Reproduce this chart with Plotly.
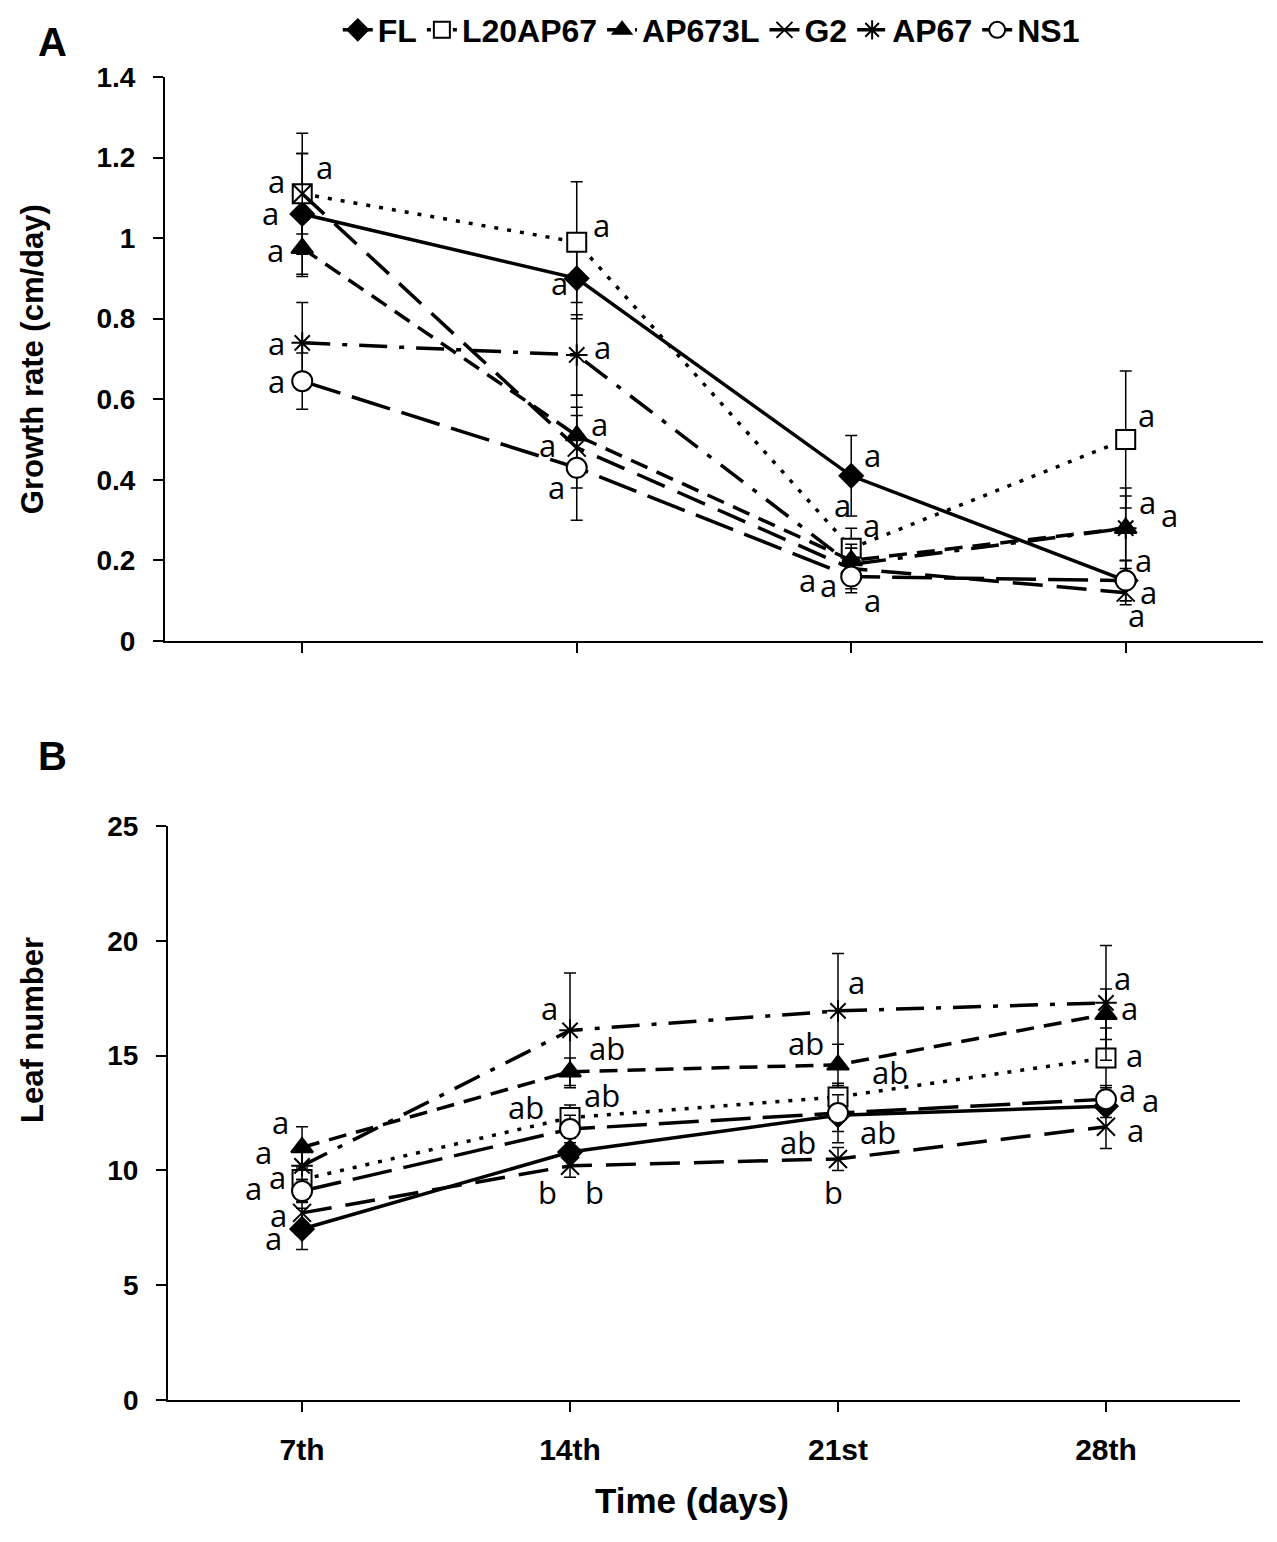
import plotly.graph_objects as go

# categories (x axis)
days = ["7th", "14th", "21st", "28th"]
lines = ["FL", "L20AP67", "AP673L", "G2", "AP67", "NS1"]

# Panel A - growth rate (cm/day), means and error bars
growth_FL = [1.06, 0.90, 0.41, 0.15]
growth_L20AP67 = [1.11, 0.99, 0.23, 0.50]
growth_AP673L = [0.975, 0.51, 0.20, 0.28]
growth_G2 = [1.11, 0.48, 0.18, 0.12]
growth_AP67 = [0.74, 0.71, 0.19, 0.28]
growth_NS1 = [0.645, 0.43, 0.16, 0.15]

growth_FL_err = [0.15, 0.10, 0.10, 0.05]
growth_L20AP67_err = [0.15, 0.15, 0.05, 0.17]
growth_AP673L_err = [0.07, 0.10, 0.04, 0.10]
growth_G2_err = [0.10, 0.10, 0.05, 0.03]
growth_AP67_err = [0.10, 0.10, 0.04, 0.08]
growth_NS1_err = [0.07, 0.13, 0.04, 0.05]

# Panel B - leaf number
leaf_FL = [7.45, 10.8, 12.4, 12.8]
leaf_L20AP67 = [9.6, 12.3, 13.2, 14.9]
leaf_AP673L = [11.0, 14.3, 14.6, 16.8]
leaf_G2 = [8.15, 10.2, 10.5, 11.9]
leaf_AP67 = [10.2, 16.1, 16.95, 17.3]
leaf_NS1 = [9.1, 11.8, 12.5, 13.1]

leaf_FL_err = [0.9, 0.6, 1.2, 0.5]
leaf_L20AP67_err = [0.6, 0.55, 0.6, 1.3]
leaf_AP673L_err = [0.9, 0.6, 0.9, 1.1]
leaf_G2_err = [0.5, 0.5, 0.5, 0.95]
leaf_AP67_err = [0.6, 2.5, 2.5, 2.5]
leaf_NS1_err = [0.5, 0.6, 0.8, 0.6]

# significance letters: day, value, letter
growth_letter_days = ["7th"] * 6 + ["14th"] * 6 + ["21st"] * 6 + ["28th"] * 6
growth_letter_values = [1.176, 1.142, 1.062, 0.970, 0.740, 0.645,
                        1.033, 0.889, 0.730, 0.539, 0.486, 0.382,
                        0.462, 0.338, 0.288, 0.151, 0.139, 0.102,
                        0.561, 0.345, 0.313, 0.201, 0.122, 0.065]
growth_letters = ["a"] * 24

leaf_letter_days = ["7th"] * 6 + ["14th"] * 6 + ["21st"] * 6 + ["28th"] * 6
leaf_letter_values = [12.11, 10.80, 9.71, 9.23, 8.06, 7.06,
                      17.07, 15.33, 13.28, 12.76, 9.06, 9.06,
                      18.21, 15.55, 14.29, 11.67, 11.24, 9.06,
                      18.38, 17.07, 15.03, 13.50, 13.07, 11.76]
leaf_letters = ["a"] * 6 + ["a", "ab", "ab", "ab", "b", "b"] + \
               ["a", "ab", "ab", "ab", "ab", "b"] + ["a"] * 6

# horizontal offsets (px) of the letters from their error bar
growth_letter_dx = [22, -26, -32, -27, -26, -26,
                    25, -17, 26, 23, -29, -20,
                    21, -9, 20, -44, -23, 21,
                    21, 22, 44, 18, 23, 11]
leaf_letter_dx = [-22, -39, -25, -49, -24, -29,
                  -21, 37, 32, -44, -23, 24,
                  18, -32, 52, 40, -40, -5,
                  17, 24, 29, 22, 45, 30]

BOLD_FONT = "Liberation Sans, Arial"
LETTER_FONT = "Open Sans, Liberation Sans"

# style of every line: marker symbol, marker fill, dash pattern
styles = {
    "FL": dict(symbol="diamond", fill="black", size=18, dash="solid"),
    "L20AP67": dict(symbol="square", fill="white", size=19, dash="4px,9px"),
    "AP673L": dict(symbol="triangle-up", fill="black", size=19, dash="18px,10px"),
    "G2": dict(symbol="x-thin-open", fill="black", size=18, dash="30px,14px"),
    "AP67": dict(symbol="asterisk-open", fill="black", size=18, dash="28px,12px,5px,12px"),
    "NS1": dict(symbol="circle", fill="white", size=20, dash="40px,12px"),
}


def addSeries(fig, name, values, errors, xaxis, yaxis, showlegend):
    '''
    adds one line with markers and error bars to the figure
    '''
    st = styles[name]
    fig.add_trace(go.Scatter(
        x=days, y=values, name=name, mode="lines+markers",
        xaxis=xaxis, yaxis=yaxis, legendgroup=name, showlegend=showlegend,
        line=dict(color="black", width=3.5, dash=st["dash"]),
        marker=dict(symbol=st["symbol"], size=st["size"], color=st["fill"],
                    line=dict(color="black", width=2)),
        error_y=dict(type="data", array=errors, color="black", thickness=1.5, width=6),
    ))


fig = go.Figure()

growth = [growth_FL, growth_L20AP67, growth_AP673L, growth_G2, growth_AP67, growth_NS1]
growth_err = [growth_FL_err, growth_L20AP67_err, growth_AP673L_err, growth_G2_err,
              growth_AP67_err, growth_NS1_err]
leaf = [leaf_FL, leaf_L20AP67, leaf_AP673L, leaf_G2, leaf_AP67, leaf_NS1]
leaf_err = [leaf_FL_err, leaf_L20AP67_err, leaf_AP673L_err, leaf_G2_err,
            leaf_AP67_err, leaf_NS1_err]

for i, name in enumerate(lines):
    addSeries(fig, name, growth[i], growth_err[i], "x", "y", True)
for i, name in enumerate(lines):
    addSeries(fig, name, leaf[i], leaf_err[i], "x2", "y2", False)

letterFont = dict(family=LETTER_FONT, size=31, color="black")
annotations = []
# letters panel A
for d, v, t, dx in zip(growth_letter_days, growth_letter_values, growth_letters, growth_letter_dx):
    annotations.append(dict(x=d, y=v, xref="x", yref="y", text=t, xshift=dx,
                            xanchor="center", yanchor="middle",
                            showarrow=False, font=letterFont))
# letters panel B
for d, v, t, dx in zip(leaf_letter_days, leaf_letter_values, leaf_letters, leaf_letter_dx):
    annotations.append(dict(x=d, y=v, xref="x2", yref="y2", text=t, xshift=dx,
                            xanchor="center", yanchor="middle",
                            showarrow=False, font=letterFont))

# axis titles and panel labels
titleFont = dict(family=BOLD_FONT, size=31, color="black", weight="bold")
paperText = dict(xref="paper", yref="paper", xanchor="center", yanchor="middle", showarrow=False)
annotations += [
    dict(x=0.025, y=0.767, text="Growth rate (cm/day)", textangle=-90, font=titleFont, **paperText),
    dict(x=0.025, y=0.332, text="Leaf number", textangle=-90, font=titleFont, **paperText),
    dict(x=0.542, y=0.027, text="Time (days)",
         font=dict(family=BOLD_FONT, size=35, color="black", weight="bold"), **paperText),
    dict(x=0.041, y=0.973, text="A",
         font=dict(family=BOLD_FONT, size=40, color="black", weight="bold"), **paperText),
    dict(x=0.041, y=0.510, text="B",
         font=dict(family=BOLD_FONT, size=40, color="black", weight="bold"), **paperText),
]

tickFont = dict(family=BOLD_FONT, size=28, color="black", weight="bold")
axisCommon = dict(showline=True, linecolor="black", linewidth=2, ticks="outside",
                  ticklen=10, tickwidth=2, tickcolor="black", showgrid=False,
                  zeroline=False, tickfont=tickFont)

fig.update_layout(
    width=1277, height=1542,
    margin=dict(l=0, r=0, t=0, b=0, autoexpand=False),
    paper_bgcolor="white", plot_bgcolor="white",
    showlegend=True,
    legend=dict(orientation="h", x=0.557, xanchor="center", y=0.9805, yanchor="middle",
                font=dict(family=BOLD_FONT, size=32, color="black", weight="bold"),
                itemwidth=30, bgcolor="rgba(0,0,0,0)"),
    annotations=annotations,
    xaxis=dict(domain=[0.1292, 0.9890], anchor="y", type="category",
               range=[-0.5, 3.5], showticklabels=False, **axisCommon),
    yaxis=dict(domain=[0.5843, 0.9501], anchor="x", range=[0, 1.4], dtick=0.2,
               ticklabelstandoff=12, **axisCommon),
    xaxis2=dict(domain=[0.1316, 0.9710], anchor="y2", type="category",
                range=[-0.5, 3.5], ticklabelstandoff=12,
                **{**axisCommon, "tickfont": dict(tickFont, size=30)}),
    yaxis2=dict(domain=[0.0921, 0.4643], anchor="x2", range=[0, 25], dtick=5,
                ticklabelstandoff=12, **axisCommon),
)

fig.write_html("out.html", config={"displayModeBar": False},
               post_script="document.body.style.margin='0';")
